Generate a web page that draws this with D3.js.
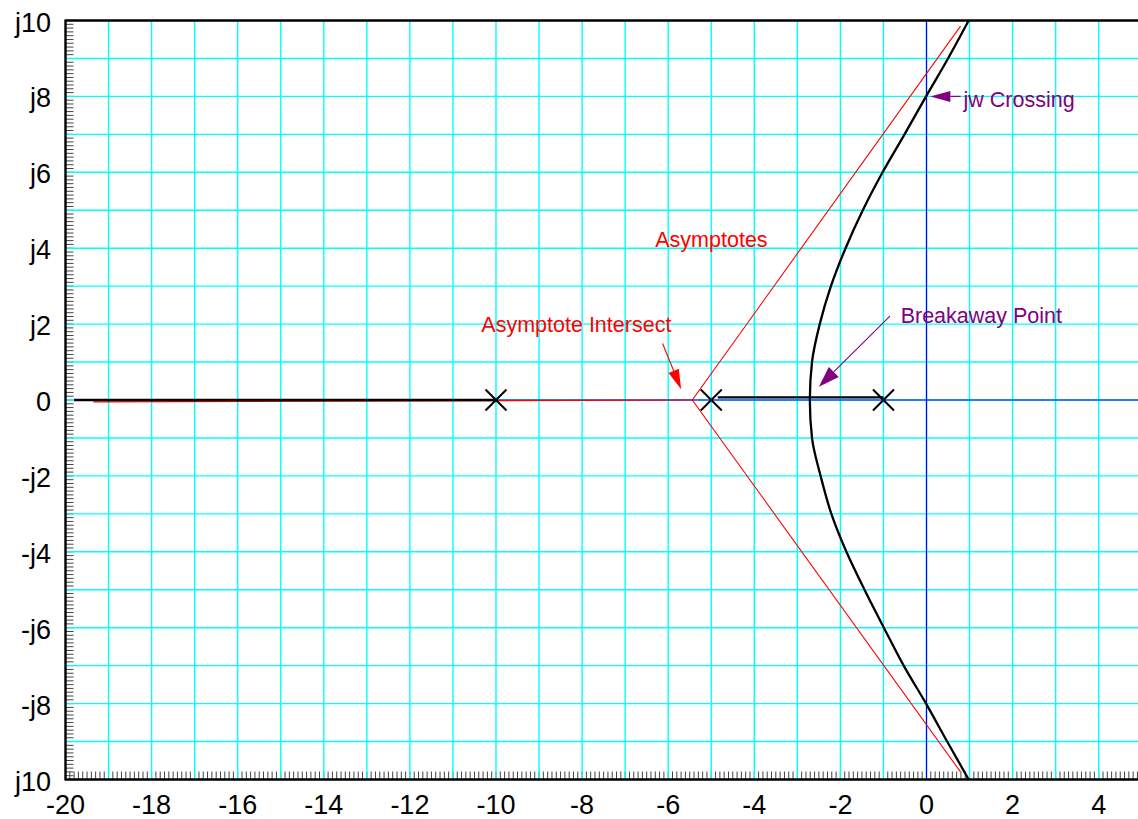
<!DOCTYPE html>
<html>
<head>
<meta charset="utf-8">
<script src="https://cdn.jsdelivr.net/npm/d3@7/dist/d3.min.js"></script>
<style>
  html, body { margin: 0; padding: 0; background: #fff; }
  svg { display: block; }
  text { font-family: "Liberation Sans", Arial, Helvetica, sans-serif; }
</style>
</head>
<body>
<svg id="chart" width="1138" height="819"></svg>
<script>
// ---- data ----
const xTickValues = [-20, -18, -16, -14, -12, -10, -8, -6, -4, -2, 0, 2, 4];
const yTickValues = [10, 8, 6, 4, 2, 0, -2, -4, -6, -8, -10];
const yTickLabels = ["j10", "j8", "j6", "j4", "j2", "0", "-j2", "-j4", "-j6", "-j8", "j10"];

// open-loop poles on the real axis
const poles = [-10, -5, -1];

// complex branch of the root locus (sigma, omega), upper then lower half
const locusUpper = [
  [0.98, 10], [0.50, 9], [-0.01, 8], [-0.51, 7], [-1.02, 6], [-1.48, 5],
  [-1.88, 4], [-2.22, 3], [-2.48, 2], [-2.66, 1], [-2.71, 0]
];
const locusLower = [
  [-2.66, -1], [-2.46, -2], [-2.21, -3], [-1.86, -4], [-1.44, -5],
  [-0.99, -6], [-0.53, -7], [-0.01, -8], [0.48, -9], [0.98, -10]
];

// real-axis portions of the locus
const realLocusLeft = [[-19.8, 0], [-10, 0]];
const realLocusRight = [[-4.85, 0.07], [-1, 0.07]];

// asymptotes: real-axis ray and the two +/-60 degree lines through the centroid
const asymptoteReal = [[-19.35, -0.05], [-5.44, 0]];
const asymptoteLines = [[0.79, 9.85], [-5.44, 0], [0.79, -9.8]];

const annotationTexts = ["jw Crossing", "Breakaway Point", "Asymptotes", "Asymptote Intersect"];

// ---- layout ----
const svg = d3.select("#chart");
const W = 1138, H = 819;
const plotLeft = 65.5, plotTop = 20.5, plotBottom = 779.5;
const unitX = 43.05;
const x = d3.scaleLinear().domain([-20, 5]).range([plotLeft, plotLeft + 25 * unitX]);
const y = d3.scaleLinear().domain([-10, 10]).range([plotBottom, plotTop]);
const plotRight = x(5);

const PURPLE = "#800080", RED = "#ff0000";

// minor ticks every 0.1 along the left and bottom axes
const minorX = d3.range(-200, 51).map(i => i / 10);
const minorY = d3.range(-100, 101).map(i => i / 10);
svg.append("g").selectAll("line").data(minorX).join("line")
  .attr("x1", d => x(d)).attr("x2", d => x(d))
  .attr("y1", plotBottom).attr("y2", plotBottom - 8)
  .attr("stroke", "#444").attr("stroke-width", 1);
svg.append("g").selectAll("line").data(minorY).join("line")
  .attr("x1", plotLeft).attr("x2", plotLeft + 8)
  .attr("y1", d => y(d)).attr("y2", d => y(d))
  .attr("stroke", "#444").attr("stroke-width", 1);

// unit grid
const gridX = d3.range(-19, 6);
const gridY = d3.range(-9, 10);
svg.append("g").selectAll("line").data(gridX).join("line")
  .attr("x1", d => x(d)).attr("x2", d => x(d))
  .attr("y1", plotTop).attr("y2", plotBottom)
  .attr("stroke", "#00ffff").attr("stroke-width", 1.4);
svg.append("g").selectAll("line").data(gridY).join("line")
  .attr("x1", plotLeft).attr("x2", plotRight)
  .attr("y1", d => y(d)).attr("y2", d => y(d))
  .attr("stroke", "#00ffff").attr("stroke-width", 1.4);

// real and imaginary axes
svg.append("line")
  .attr("x1", x(-19.8)).attr("x2", plotRight).attr("y1", y(0)).attr("y2", y(0))
  .attr("stroke", "#0000ff").attr("stroke-width", 1.2);
svg.append("line")
  .attr("x1", x(0)).attr("x2", x(0)).attr("y1", plotTop).attr("y2", plotBottom)
  .attr("stroke", "#0000ff").attr("stroke-width", 1.2);

const line = d3.line().x(d => x(d[0])).y(d => y(d[1]));

// asymptotes
svg.append("path").attr("d", line(asymptoteReal))
  .attr("fill", "none").attr("stroke", RED).attr("stroke-width", 1.1);
svg.append("path").attr("d", line(asymptoteLines))
  .attr("fill", "none").attr("stroke", RED).attr("stroke-width", 1.1);

// root locus
svg.append("path").attr("d", line(realLocusLeft))
  .attr("fill", "none").attr("stroke", "#000").attr("stroke-width", 2.3);
svg.append("path").attr("d", line(realLocusRight))
  .attr("fill", "none").attr("stroke", "#000").attr("stroke-width", 2.3);
// sigma as a smooth monotone function of omega; vertical tangent at the breakaway
const curve = d3.line().x(d => x(d[0])).y(d => y(d[1])).curve(d3.curveMonotoneY);
svg.append("path").attr("d", curve(locusUpper.concat(locusLower)))
  .attr("fill", "none").attr("stroke", "#000").attr("stroke-width", 2.3);

// pole markers
const s = 10.5;
const poleG = svg.append("g").selectAll("g").data(poles).join("g")
  .attr("transform", d => `translate(${x(d)},${y(0)})`);
poleG.append("line").attr("x1", -s).attr("y1", -s).attr("x2", s).attr("y2", s)
  .attr("stroke", "#000").attr("stroke-width", 2);
poleG.append("line").attr("x1", -s).attr("y1", s).attr("x2", s).attr("y2", -s)
  .attr("stroke", "#000").attr("stroke-width", 2);

// frame: left axis, top and bottom edges
svg.append("line").attr("x1", plotLeft).attr("x2", plotLeft).attr("y1", plotTop - 1).attr("y2", plotBottom + 1)
  .attr("stroke", "#000").attr("stroke-width", 2.4);
svg.append("line").attr("x1", plotLeft).attr("x2", W).attr("y1", plotTop).attr("y2", plotTop)
  .attr("stroke", "#000").attr("stroke-width", 2.4);
svg.append("line").attr("x1", plotLeft).attr("x2", W).attr("y1", plotBottom).attr("y2", plotBottom)
  .attr("stroke", "#000").attr("stroke-width", 2.4);

// tick labels
svg.append("g").selectAll("text").data(xTickValues).join("text")
  .attr("x", d => x(d)).attr("y", 814)
  .attr("text-anchor", "middle").attr("font-size", 27).attr("fill", "#000")
  .text(d => d);
svg.append("g").selectAll("text").data(yTickValues).join("text")
  .attr("x", 51).attr("y", d => y(d) + 11)
  .attr("text-anchor", "end").attr("font-size", 27).attr("fill", "#000")
  .text((d, i) => yTickLabels[i]);

// annotations with arrows
function arrow(p0, p1, color, len, hw) {
  const x0 = x(p0[0]), y0 = y(p0[1]), x1 = x(p1[0]), y1 = y(p1[1]);
  const dx = x1 - x0, dy = y1 - y0, d = Math.hypot(dx, dy);
  const ux = dx / d, uy = dy / d;
  const bx = x1 - ux * len, by = y1 - uy * len;
  svg.append("line").attr("x1", x0).attr("y1", y0).attr("x2", bx).attr("y2", by)
    .attr("stroke", color).attr("stroke-width", 1.1);
  svg.append("polygon")
    .attr("points", [[x1, y1], [bx - uy * hw, by + ux * hw], [bx + uy * hw, by - ux * hw]]
      .map(p => p.join(",")).join(" "))
    .attr("fill", color);
}
function label(txt, px, py, color) {
  svg.append("text").attr("x", x(px)).attr("y", y(py))
    .attr("font-size", 21.5).attr("fill", color).text(txt);
}

arrow([0.79, 8.0], [0.09, 8.0], PURPLE, 20, 5.5);
label(annotationTexts[0], 0.86, 7.72, PURPLE);

arrow([-0.85, 2.21], [-2.50, 0.35], PURPLE, 21, 7);
label(annotationTexts[1], -0.60, 2.02, PURPLE);

label(annotationTexts[2], -6.30, 4.03, RED);

arrow([-6.13, 1.49], [-5.70, 0.28], RED, 20, 5.5);
label(annotationTexts[3], -10.34, 1.79, RED);
</script>
</body>
</html>
